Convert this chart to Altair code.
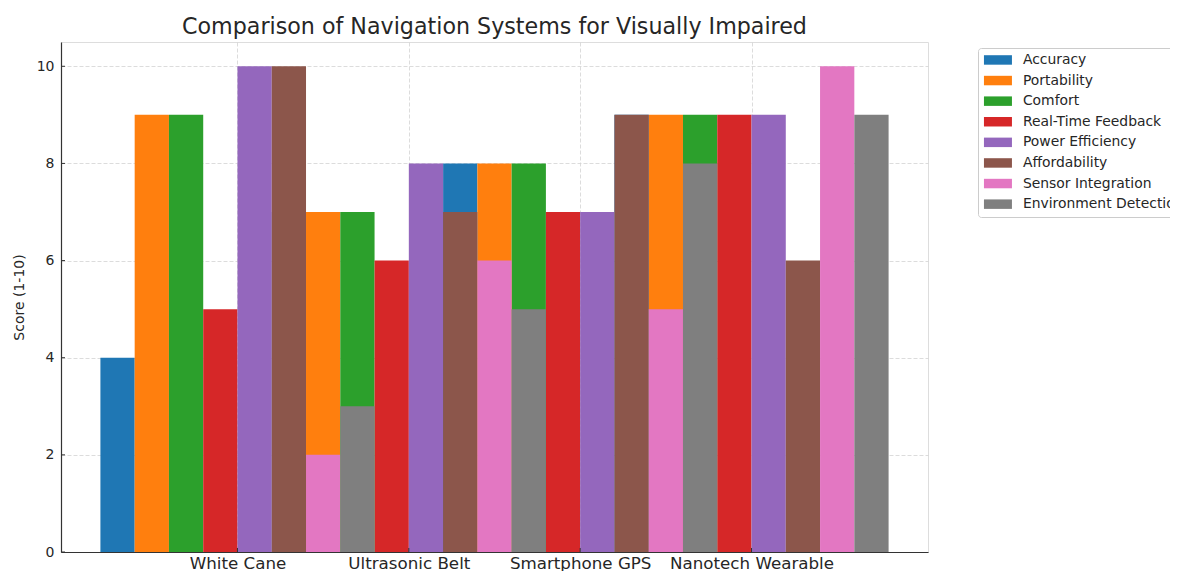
import json
import altair as alt
import pandas as pd

categories = ["White Cane", "Ultrasonic Belt", "Smartphone GPS", "Nanotech Wearable"]
series = ["Accuracy", "Portability", "Comfort", "Real-Time Feedback",
          "Power Efficiency", "Affordability", "Sensor Integration", "Environment Detection"]
accuracy = [4, 7, 8, 9]
portability = [9, 7, 8, 9]
comfort = [9, 7, 8, 9]
realtime_feedback = [5, 6, 7, 9]
power_efficiency = [10, 8, 7, 9]
affordability = [10, 7, 9, 6]
sensor_integration = [2, 6, 5, 10]
environment_detection = [3, 5, 8, 9]
colors = ["#1f77b4", "#ff7f0e", "#2ca02c", "#d62728",
          "#9467bd", "#8c564b", "#e377c2", "#7f7f7f"]
y_ticks = [0, 2, 4, 6, 8, 10]

values = [accuracy, portability, comfort, realtime_feedback,
          power_efficiency, affordability, sensor_integration, environment_detection]
rows = []
for si, (name, vals) in enumerate(zip(series, values)):
    for ci, v in enumerate(vals):
        rows.append({"series": name, "si": si, "cat": categories[ci], "ci": ci, "score": v})
df = pd.DataFrame(rows)
cat_df = pd.DataFrame({"ci": list(range(len(categories))), "cat": categories})
ytick_df = pd.DataFrame({"v": y_ticks})

W, H = 867, 510
BAR = 0.2
FONT = "DejaVu Sans"
TXT = "#262626"

xscale = alt.Scale(domain=[-1.03, 4.03], nice=False, zero=False)
yscale = alt.Scale(domain=[0, 10.5], nice=False, zero=False)

label_expr = json.dumps(categories) + "[datum.value]"
xaxis = alt.Axis(values=list(range(len(categories))), labelExpr=label_expr, title=None,
                 grid=True, gridDash=[4, 2], gridColor="#d3d3d3", gridWidth=0.8,
                 ticks=False, tickSize=0, labelPadding=3, labelFontSize=16.7,
                 labelFont=FONT, labelColor=TXT, domainColor="#333333", domainWidth=1.2,
                 labelAngle=0)
yaxis = alt.Axis(values=y_ticks, title="Score (1-10)", titleFont=FONT, titleFontSize=14,
                 titleFontWeight="normal", titleColor=TXT, titlePadding=10,
                 grid=True, gridDash=[4, 2], gridColor="#d3d3d3", gridWidth=0.8,
                 ticks=False, tickSize=0, labelPadding=7, labelFontSize=14,
                 labelFont=FONT, labelColor=TXT, domainColor="#333333", domainWidth=1.2)

bars = alt.Chart(df).transform_calculate(
    center=f"datum.ci + (datum.si - 3.5) * {BAR}"
).transform_calculate(
    x0=f"datum.center - {BAR / 2}", x1=f"datum.center + {BAR / 2}", zero="0"
).mark_rect().encode(
    x=alt.X("x0:Q", scale=xscale, axis=xaxis),
    x2="x1:Q",
    y=alt.Y("score:Q", scale=yscale, axis=yaxis),
    y2="zero:Q",
    color=alt.Color("series:N", scale=alt.Scale(domain=series, range=colors),
                    legend=alt.Legend(title=None, orient="none", legendX=917, legendY=6,
                                      symbolType="M-2.333,-0.79H2.333V0.79H-2.333Z",
                                      symbolSize=144, symbolOffset=8,
                                      symbolStrokeWidth=0, labelFont=FONT, labelFontSize=13.9,
                                      labelColor=TXT, labelOffset=18, rowPadding=5.6,
                                      labelLimit=400,
                                      padding=5, strokeColor="#cccccc", cornerRadius=3,
                                      fillColor="white")),
    tooltip=["cat:N", "series:N", "score:Q"],
)

xticks = alt.Chart(cat_df).mark_rule(color="#333333", strokeWidth=1).encode(
    x=alt.X("ci:Q", scale=xscale, axis=xaxis),
    y=alt.value(H), y2=alt.value(H - 4),
)
yticks = alt.Chart(ytick_df).mark_rule(color="#333333", strokeWidth=1).encode(
    y=alt.Y("v:Q", scale=yscale, axis=yaxis),
    x=alt.value(0), x2=alt.value(4),
)

chart = alt.layer(bars, xticks, yticks).properties(
    width=W, height=H,
    title=alt.TitleParams("Comparison of Navigation Systems for Visually Impaired",
                          font=FONT, fontSize=22.2, fontWeight="normal", color=TXT,
                          anchor="middle", baseline="alphabetic", offset=-14),
    autosize=alt.AutoSizeParams(type="none"),
    padding={"left": 53, "top": 34, "right": 242, "bottom": 19},
).configure_view(stroke=None).configure(background="white")

chart.save("out.html", embed_options={"renderer": "svg", "actions": False})
